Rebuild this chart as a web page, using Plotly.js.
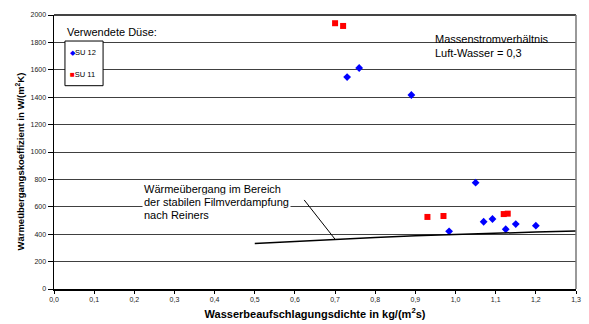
<!DOCTYPE html>
<html><head><meta charset="utf-8">
<script src="https://cdn.plot.ly/plotly-3.0.1.min.js"></script>
<style>html,body{margin:0;padding:0;background:#fff}#c{width:589px;height:324px}</style>
</head><body><div id="c"></div>
<script>
const su12X = [0.73, 0.76, 0.89, 1.05, 0.984, 1.07, 1.092, 1.125, 1.15, 1.20];
const su12Y = [1547, 1613, 1416, 776, 421, 491, 511, 436, 474, 462];
const su11X = [0.70, 0.72, 0.93, 0.97, 1.12, 1.13];
const su11Y = [1940, 1920, 526, 533, 547, 550];
const reinersX = [0.5, 0.6, 0.7, 0.8, 0.9, 1.0, 1.1, 1.2, 1.3];
const reinersY = [333, 349, 363, 376, 388, 399, 409, 416, 423];
const xTicks = [0,0.1,0.2,0.3,0.4,0.5,0.6,0.7,0.8,0.9,1.0,1.1,1.2,1.3];
const yTicks = [0,200,400,600,800,1000,1200,1400,1600,1800,2000];
const legendNames = ['SU 12', 'SU 11'];

const fontF = 'Arial, "Liberation Sans", sans-serif';
const data = [
  {x: su12X, y: su12Y, type:'scatter', mode:'markers', name:legendNames[0],
   marker:{symbol:'diamond', size:6, color:'#0000ff', line:{width:0}}},
  {x: su11X, y: su11Y, type:'scatter', mode:'markers', name:legendNames[1],
   marker:{symbol:'square', size:6, color:'#ff0000', line:{width:0}}},
  {x: reinersX, y: reinersY, type:'scatter', mode:'lines', name:'Reiners',
   line:{color:'#000', width:1.5}}
];
const layout = {
  width:589, height:324,
  margin:{l:54, r:13, t:15, b:35},
  paper_bgcolor:'#fff', plot_bgcolor:'#fff',
  separators:',.',
  font:{family:fontF, size:7, color:'#000'},
  showlegend:false,
  xaxis:{range:[0,1.3], tickvals:xTicks, ticktext:xTicks.map(v=>v.toFixed(1).replace('.',',')),
         showgrid:false, zeroline:false, showline:true, linecolor:'#000', linewidth:2, mirror:false,
         ticks:'outside', ticklen:3, tickcolor:'#000', tickfont:{size:7, color:'#222'},
         title:{text:'<b>Wasserbeaufschlagungsdichte in kg/(m<sup>2</sup>s)</b>', font:{size:11}, standoff:8}, automargin:false},
  yaxis:{range:[0,2000], tickvals:yTicks, showgrid:true, gridcolor:'#404040', gridwidth:1, zeroline:false,
         showline:true, linecolor:'#000', linewidth:1.5, ticks:'outside', ticklen:5, tickcolor:'#000', tickfont:{size:7, color:'#222'},
         title:{text:''}, automargin:false},
  shapes:[
    {type:'line', xref:'paper', yref:'paper', x0:0, x1:1, y0:1, y1:1, line:{color:'#444', width:2}},
    {type:'line', xref:'paper', yref:'paper', x0:1, x1:1, y0:0, y1:1, line:{color:'#777', width:1.5}},
    {type:'line', xref:'x', yref:'y', x0:0.623, y0:650, x1:0.70, y1:363, line:{color:'#000', width:1}},
    {type:'rect', xref:'paper', yref:'paper', x0:0.021, x1:0.094, y0:0.742, y1:0.905,
     fillcolor:'#fff', line:{color:'#000', width:1}}
  ],
  annotations:[
    {xref:'paper', yref:'paper', x:-0.066, y:0.5, xanchor:'center', yanchor:'middle', textangle:-90, yshift:-10, showarrow:false,
     text:'<b>Wärmeübergangskoeffizient in W/(m<sup>2</sup>K)</b>', font:{size:9.5, family:fontF}},
    {xref:'x', yref:'y', x:0.027, y:1874, xanchor:'left', yanchor:'middle', showarrow:false,
     text:'Verwendete Düse:', font:{size:11, family:fontF}},
    {xref:'x', yref:'y', x:0.035, y:1728, xanchor:'left', yanchor:'middle', showarrow:false,
     text:'<span style="color:#0000ff;font-size:7px">◆</span>SU 12', font:{size:7.5, family:fontF}},
    {xref:'x', yref:'y', x:0.035, y:1564, xanchor:'left', yanchor:'middle', showarrow:false,
     text:'<span style="color:#ff0000;font-size:8px">■</span>SU 11', font:{size:7.5, family:fontF}},
    {xref:'x', yref:'y', x:0.944, y:1822, xanchor:'left', yanchor:'middle', showarrow:false,
     text:'Massenstromverhältnis', font:{size:11, family:fontF}},
    {xref:'x', yref:'y', x:0.944, y:1720, xanchor:'left', yanchor:'middle', showarrow:false,
     text:'Luft-Wasser = 0,3', font:{size:11, family:fontF}},
    {xref:'x', yref:'y', x:0.218, y:728, xanchor:'left', yanchor:'middle', showarrow:false, bgcolor:'#fff',
     text:'Wärmeübergang im Bereich', font:{size:11, family:fontF}},
    {xref:'x', yref:'y', x:0.218, y:637, xanchor:'left', yanchor:'middle', showarrow:false, bgcolor:'#fff',
     text:'der stabilen Filmverdampfung', font:{size:11, family:fontF}},
    {xref:'x', yref:'y', x:0.218, y:540, xanchor:'left', yanchor:'middle', showarrow:false, bgcolor:'#fff',
     text:'nach Reiners', font:{size:11, family:fontF}}
  ]
};
Plotly.newPlot('c', data, layout, {staticPlot:true, displayModeBar:false});
</script></body></html>
